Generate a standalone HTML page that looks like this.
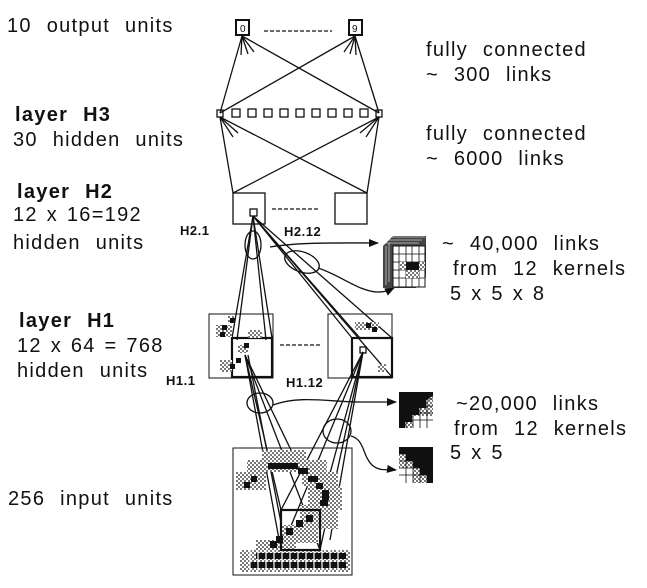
<!DOCTYPE html>
<html><head><meta charset="utf-8"><style>
html,body{margin:0;padding:0;background:#fff;}
svg{display:block;}
text{font-family:"Liberation Sans",Arial,sans-serif;fill:#111;}
.t{font-size:20px;word-spacing:8px;letter-spacing:1.3px;}
.n{word-spacing:2px;}
.b{font-weight:bold;}
.s{font-size:13px;font-weight:bold;letter-spacing:0.5px;}
</style></head><body>
<svg width="647" height="588" viewBox="0 0 647 588" xmlns="http://www.w3.org/2000/svg">
<defs>
<pattern id="g" width="4" height="4" patternUnits="userSpaceOnUse"><rect width="4" height="4" fill="#fff"/><rect width="2" height="2" fill="#777"/><rect x="2" y="2" width="2" height="2" fill="#777"/></pattern>
<marker id="ar" markerWidth="10" markerHeight="8" refX="9" refY="4" orient="auto" markerUnits="userSpaceOnUse"><path d="M0,0L10,4L0,8z" fill="#111"/></marker>
</defs>
<g stroke="#111" fill="none" stroke-width="1.3">
<rect x="236" y="20" width="13" height="15" stroke-width="2"/>
<rect x="349" y="20" width="13" height="15" stroke-width="2"/>
<line x1="264" y1="31" x2="332" y2="31" stroke-dasharray="4,2"/>
<line x1="242" y1="36" x2="220" y2="113"/><line x1="242" y1="36" x2="379" y2="113"/>
<line x1="355" y1="36" x2="220" y2="113"/><line x1="355" y1="36" x2="379" y2="113"/>
<line x1="242" y1="36" x2="241" y2="55"/><line x1="242" y1="36" x2="248" y2="54"/><line x1="242" y1="36" x2="254" y2="52"/>
<line x1="355" y1="36" x2="344" y2="52"/><line x1="355" y1="36" x2="350" y2="54"/><line x1="355" y1="36" x2="356" y2="55"/>
<rect x="217" y="110" width="6" height="7"/>
<rect x="232" y="109" width="8" height="8"/><rect x="248" y="109" width="8" height="8"/><rect x="264" y="109" width="8" height="8"/><rect x="280" y="109" width="8" height="8"/><rect x="296" y="109" width="8" height="8"/><rect x="312" y="109" width="8" height="8"/><rect x="328" y="109" width="8" height="8"/><rect x="344" y="109" width="8" height="8"/><rect x="360" y="109" width="8" height="8"/>
<rect x="376" y="110" width="6" height="7"/>
<line x1="220" y1="117" x2="233" y2="193"/><line x1="220" y1="117" x2="367" y2="193"/>
<line x1="379" y1="117" x2="233" y2="193"/><line x1="379" y1="117" x2="367" y2="193"/>
<line x1="220" y1="117" x2="238" y2="133"/><line x1="220" y1="117" x2="233" y2="137"/>
<line x1="379" y1="117" x2="360" y2="133"/><line x1="379" y1="117" x2="366" y2="137"/>
<rect x="233" y="193" width="32" height="31"/>
<rect x="335" y="193" width="32" height="31"/>
<rect x="250" y="209" width="7" height="7"/>
<line x1="272" y1="209" x2="318" y2="209" stroke-dasharray="4,2"/>
<line x1="253" y1="216" x2="232" y2="338"/><line x1="253" y1="216" x2="237" y2="340"/>
<line x1="253" y1="216" x2="272" y2="338"/><line x1="253" y1="216" x2="266" y2="340"/>
<line x1="253" y1="216" x2="352" y2="338"/><line x1="253" y1="216" x2="392" y2="377"/>
<line x1="253" y1="216" x2="360" y2="338"/><line x1="253" y1="216" x2="392" y2="338"/>
<ellipse cx="253" cy="245" rx="8" ry="14"/>
<ellipse cx="302" cy="262" rx="18" ry="10" transform="rotate(20 302 262)"/>
<path d="M270,247 C300,242 340,243 378,243" marker-end="url(#ar)"/>
<path d="M318,268 C340,275 360,292 378,292 C386,292 390,290 394,288" marker-end="url(#ar)"/>
<rect x="209" y="314" width="64" height="64" stroke-width="1"/>
<rect x="232" y="338" width="40" height="39" stroke-width="2.2"/>
<rect x="328" y="314" width="64" height="64" stroke-width="1"/>
<rect x="352" y="338" width="40" height="39" stroke-width="2.2"/>
<rect x="360" y="347" width="6" height="6"/>
<line x1="280" y1="345" x2="320" y2="345" stroke-dasharray="4,2"/>
<line x1="245" y1="355" x2="281" y2="510"/><line x1="245" y1="355" x2="281" y2="550"/>
<line x1="245" y1="355" x2="320" y2="510"/><line x1="245" y1="355" x2="320" y2="550"/>
<line x1="248" y1="355" x2="286" y2="548"/>
<line x1="363" y1="352" x2="281" y2="510"/><line x1="363" y1="352" x2="281" y2="550"/>
<line x1="363" y1="352" x2="320" y2="510"/><line x1="363" y1="352" x2="320" y2="550"/>
<line x1="363" y1="352" x2="330" y2="540"/>
<ellipse cx="260" cy="403" rx="13" ry="10"/>
<ellipse cx="337" cy="431" rx="14" ry="12"/>
<path d="M273,405 C300,395 330,402 360,402 C375,402 385,402 396,402" marker-end="url(#ar)"/>
<path d="M351,436 C365,440 362,455 372,465 C380,472 388,469 396,470" marker-end="url(#ar)"/>
<rect x="233" y="448" width="119" height="127" stroke-width="1"/>
</g>
<g fill="url(#g)">
<rect x="228" y="316" width="6" height="6"/><rect x="216" y="325" width="16" height="12"/><rect x="248" y="330" width="14" height="8"/><rect x="238" y="345" width="10" height="8"/><rect x="220" y="360" width="12" height="12"/><rect x="355" y="322" width="24" height="8"/><rect x="378" y="364" width="8" height="8"/>
<rect x="262" y="450" width="44" height="10"/><rect x="247" y="460" width="80" height="12"/><rect x="236" y="472" width="30" height="18"/><rect x="302" y="472" width="36" height="14"/><rect x="308" y="486" width="34" height="24"/><rect x="300" y="505" width="38" height="24"/><rect x="280" y="525" width="38" height="18"/><rect x="256" y="540" width="40" height="12"/><rect x="240" y="550" width="110" height="22"/>
</g>
<g fill="#111">
<rect x="230" y="318" width="5" height="5"/><rect x="222" y="325" width="5" height="5"/><rect x="220" y="332" width="5" height="5"/><rect x="244" y="343" width="5" height="5"/><rect x="236" y="358" width="5" height="5"/><rect x="230" y="364" width="5" height="5"/>
<rect x="366" y="323" width="5" height="5"/><rect x="372" y="327" width="5" height="5"/>
<rect x="268" y="463" width="30" height="6"/><rect x="298" y="468" width="10" height="6"/><rect x="251" y="476" width="6" height="6"/><rect x="244" y="482" width="6" height="6"/><rect x="308" y="476" width="10" height="6"/><rect x="316" y="483" width="7" height="6"/><rect x="322" y="490" width="7" height="10"/><rect x="320" y="500" width="8" height="6"/><rect x="306" y="515" width="7" height="7"/><rect x="296" y="520" width="7" height="7"/><rect x="286" y="528" width="7" height="7"/><rect x="276" y="536" width="7" height="7"/><rect x="270" y="541" width="7" height="7"/><rect x="256" y="553" width="90" height="6"/><rect x="250" y="562" width="96" height="6"/>
</g>
<g stroke="#fff" stroke-width="1.2">
<path d="M250,550V572M258,550V572M266,550V572M274,550V572M282,550V572M290,550V572M298,550V572M306,550V572M314,550V572M322,550V572M330,550V572M338,550V572"/>
</g>
<rect x="281" y="510" width="39" height="40" stroke="#111" stroke-width="2.2" fill="none"/>
<g>
<path d="M383,246 L393,236 L426,236 L426,277 L416,288 L383,288z" fill="#444"/>
<g stroke="#ccc" stroke-width="0.8"><path d="M386,243H419M389,240H422M392,237H425M386,246V285M389,243V282"/></g>
<rect x="393" y="246" width="32" height="41" fill="#fff" stroke="#111"/>
<g stroke="#111" stroke-width="0.8"><path d="M399,246V287M406,246V287M412,246V287M419,246V287M393,254H425M393,262H425M393,270H425M393,278H425"/></g>
<rect x="406" y="262" width="13" height="8" fill="#111"/>
<rect x="400" y="262" width="6" height="8" fill="url(#g)"/><rect x="419" y="262" width="6" height="8" fill="url(#g)"/><rect x="406" y="270" width="13" height="8" fill="url(#g)"/>
</g>
<g>
<rect x="399" y="392" width="34" height="36" fill="#111"/>
<path d="M433,396 L433,428 L405,428 L405,422 L412,422 L412,415 L419,415 L419,408 L426,408 L426,400z" fill="url(#g)"/>
<rect x="413" y="416" width="20" height="12" fill="#fff"/>
<g stroke="#111" stroke-width="0.8"><path d="M406,392V428M413,392V428M420,392V428M427,392V428M399,399H433M399,406H433M399,413H433M399,420H433"/></g>
</g>
<g>
<rect x="399" y="447" width="34" height="36" fill="#111"/>
<path d="M399,454 L406,454 L406,461 L413,461 L413,468 L420,468 L420,475 L427,475 L427,483 L399,483z" fill="url(#g)"/>
<rect x="399" y="468" width="14" height="15" fill="#fff"/>
<g stroke="#111" stroke-width="0.8"><path d="M406,447V483M413,447V483M420,447V483M427,447V483M399,454H433M399,461H433M399,468H433M399,475H433"/></g>
</g>
<text x="240" y="32" font-size="10">0</text><text x="352" y="32" font-size="10">9</text>
<text class="t" x="7" y="32">10 output units</text>
<text class="t b" x="15" y="121">layer H3</text>
<text class="t" x="13" y="146">30 hidden units</text>
<text class="t b" x="17" y="198">layer H2</text>
<text class="t n" x="13" y="221">12 x 16=192</text>
<text class="t" x="13" y="249">hidden units</text>
<text class="t b" x="19" y="327">layer H1</text>
<text class="t n" x="17" y="352">12 x 64 = 768</text>
<text class="t" x="17" y="377">hidden units</text>
<text class="t" x="8" y="505">256 input units</text>
<text class="s" x="180" y="235">H2.1</text>
<text class="s" x="284" y="236">H2.12</text>
<text class="s" x="166" y="385">H1.1</text>
<text class="s" x="286" y="387">H1.12</text>
<text class="t" x="426" y="56">fully connected</text>
<text class="t" x="426" y="81">~ 300 links</text>
<text class="t" x="426" y="140">fully connected</text>
<text class="t" x="426" y="165">~ 6000 links</text>
<text class="t" x="442" y="250">~ 40,000 links</text>
<text class="t" x="453" y="275">from 12 kernels</text>
<text class="t n" x="450" y="300">5 x 5 x 8</text>
<text class="t" x="456" y="410">~20,000 links</text>
<text class="t" x="454" y="435">from 12 kernels</text>
<text class="t n" x="450" y="459">5 x 5</text>
</svg>
</body></html>
